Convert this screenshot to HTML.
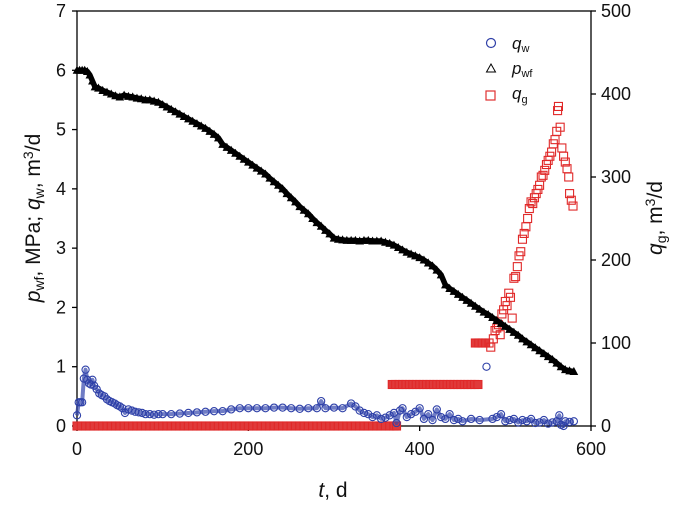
<!DOCTYPE html>
<html><head><meta charset="utf-8"><style>
body{margin:0;background:#fff}
svg text{font-family:"Liberation Sans",Arial,sans-serif;fill:#111}
</style></head><body>
<svg id="chart" width="685" height="507" viewBox="0 0 685 507" xmlns="http://www.w3.org/2000/svg">
<g id="axes"></g>
<g id="plot"></g>
<g id="legend">
  <circle cx="491" cy="43" r="4.5" fill="none" stroke="#3040a8" stroke-width="1.2"/>
  <text x="512" y="49" font-size="17"><tspan font-style="italic">q</tspan><tspan font-size="11" dy="3">w</tspan></text>
  <path d="M486.5,72 L491,64 L495.5,72 Z" fill="none" stroke="#000" stroke-width="1"/>
  <text x="512" y="74" font-size="17"><tspan font-style="italic">p</tspan><tspan font-size="11" dy="3">wf</tspan></text>
  <rect x="486" y="91" width="9" height="9" fill="none" stroke="#e03030" stroke-width="1.2"/>
  <text x="512" y="99" font-size="17"><tspan font-style="italic">q</tspan><tspan font-size="11" dy="4">g</tspan></text>
</g>
<text transform="translate(40,218) rotate(-90)" text-anchor="middle" font-size="21"><tspan font-style="italic">p</tspan><tspan font-size="14" dy="4">wf</tspan><tspan dy="-4">, MPa; </tspan><tspan font-style="italic">q</tspan><tspan font-size="14" dy="4">w</tspan><tspan dy="-4">, m</tspan><tspan font-size="14" dy="-7">3</tspan><tspan dy="7">/d</tspan></text>
<text transform="translate(662,218) rotate(-90)" text-anchor="middle" font-size="21"><tspan font-style="italic">q</tspan><tspan font-size="14" dy="4">g</tspan><tspan dy="-4">, m</tspan><tspan font-size="14" dy="-7">3</tspan><tspan dy="7">/d</tspan></text>
<text x="333" y="497" text-anchor="middle" font-size="21"><tspan font-style="italic">t</tspan>, d</text>
</svg>
<script>
const xTicks=[0,200,400,600];
const yLeftTicks=[0,1,2,3,4,5,6,7];
const yRightTicks=[0,100,200,300,400,500];
const pwfT=[0,3,6,9,12,15,18,21,25,30,35,40,45,50,55,60,65,70,75,80,85,90,95,100,105,110,115,120,125,130,135,140,145,150,155,160,165,170,175,180,185,190,195,200,205,210,215,220,225,230,235,240,245,250,255,260,265,270,275,280,285,290,295,300,305,310,315,320,325,330,335,340,345,350,355,360,365,370,375,380,385,390,395,400,405,410,415,420,425,430,435,440,445,450,455,460,465,470,475,480,485,490,495,500,505,510,515,520,525,530,535,540,545,550,555,560,565,570,575,580];
const pwfV=[6.0,6.0,6.0,6.0,5.98,5.92,5.82,5.72,5.7,5.66,5.63,5.6,5.57,5.55,5.58,5.56,5.55,5.53,5.52,5.5,5.5,5.48,5.46,5.42,5.38,5.34,5.3,5.26,5.22,5.18,5.14,5.1,5.06,5.02,4.97,4.92,4.86,4.75,4.7,4.65,4.6,4.55,4.5,4.45,4.4,4.35,4.3,4.25,4.18,4.12,4.06,4.0,3.92,3.85,3.78,3.7,3.64,3.58,3.5,3.43,3.37,3.3,3.24,3.17,3.15,3.14,3.13,3.13,3.13,3.12,3.13,3.13,3.12,3.12,3.12,3.1,3.08,3.05,3.01,2.97,2.93,2.9,2.87,2.84,2.8,2.75,2.7,2.63,2.55,2.38,2.32,2.27,2.22,2.17,2.12,2.07,2.02,1.97,1.92,1.88,1.83,1.78,1.73,1.68,1.63,1.58,1.53,1.47,1.42,1.37,1.32,1.27,1.22,1.17,1.12,1.06,1.0,0.95,0.93,0.92,0.92,0.9];
const qwT=[0,2,4,6,8,10,12,14,16,18,20,23,26,29,32,35,38,41,44,47,50,53,56,60,64,68,72,76,80,85,90,95,100,110,120,130,140,150,160,170,180,190,200,210,220,230,240,250,260,270,280,285,290,300,310,320,325,330,335,340,345,350,355,360,365,370,373,377,380,385,390,395,400,405,410,415,420,425,430,435,440,445,450,460,470,478,485,490,495,500,505,510,515,520,525,530,535,540,545,550,555,560,563,565,568,570,575,580];
const qwV=[0.18,0.4,0.4,0.4,0.8,0.95,0.78,0.72,0.7,0.78,0.68,0.62,0.55,0.52,0.5,0.45,0.42,0.4,0.38,0.35,0.33,0.3,0.22,0.28,0.26,0.24,0.23,0.22,0.2,0.2,0.19,0.2,0.2,0.2,0.21,0.22,0.23,0.24,0.25,0.25,0.28,0.3,0.3,0.3,0.3,0.31,0.31,0.3,0.29,0.3,0.3,0.42,0.3,0.31,0.3,0.38,0.33,0.26,0.22,0.2,0.15,0.18,0.12,0.14,0.18,0.22,0.05,0.26,0.3,0.15,0.2,0.24,0.3,0.12,0.2,0.1,0.28,0.15,0.12,0.2,0.1,0.12,0.08,0.12,0.1,1.0,0.12,0.15,0.2,0.08,0.1,0.12,0.06,0.1,0.08,0.12,0.05,0.06,0.1,0.04,0.06,0.08,0.18,0.02,0.0,0.08,0.07,0.08];
const qgT=[0,5,10,15,20,25,30,35,40,45,50,55,60,65,70,75,80,85,90,95,100,105,110,115,120,125,130,135,140,145,150,155,160,165,170,175,180,185,190,195,200,205,210,215,220,225,230,235,240,245,250,255,260,265,270,275,280,285,290,295,300,305,310,315,320,325,330,335,340,345,350,355,360,365,370,373,
 368,372,376,380,384,388,392,396,400,404,408,412,416,420,424,428,432,436,440,444,448,452,456,460,464,468,
 465,469,473,477,481,483,486,488,490,492,494,496,498,500,502,504,506,508,510,512,514,516,518,520,522,524,526,528,530,532,534,536,538,540,542,544,546,548,550,552,554,556,558,560,561,562,564,566,568,570,572,574,575,577,579];
const qgV=[0,0,0,0,0,0,0,0,0,0,0,0,0,0,0,0,0,0,0,0,0,0,0,0,0,0,0,0,0,0,0,0,0,0,0,0,0,0,0,0,0,0,0,0,0,0,0,0,0,0,0,0,0,0,0,0,0,0,0,0,0,0,0,0,0,0,0,0,0,0,0,0,0,0,0,0,
 50,50,50,50,50,50,50,50,50,50,50,50,50,50,50,50,50,50,50,50,50,50,50,50,50,50,
 100,100,100,100,100,95,105,115,118,122,110,135,140,150,145,160,155,130,178,180,192,205,210,225,232,240,250,262,270,268,275,280,285,290,300,302,308,315,320,325,330,340,345,355,380,385,360,335,325,318,310,300,280,272,265];

const X0=77,X1=591,Y0=426,Y1=11;
const sx=t=>X0+(t-0)/(600-0)*(X1-X0);
const syL=v=>Y0-(v/7)*(Y0-Y1);
const syR=v=>Y0-(v/500)*(Y0-Y1);
const NS='http://www.w3.org/2000/svg';
const axes=document.getElementById('axes'),plot=document.getElementById('plot');
function mk(tag,attrs,parent){const e=document.createElementNS(NS,tag);for(const k in attrs)e.setAttribute(k,attrs[k]);parent.appendChild(e);return e;}

let frame=mk('rect',{x:X0,y:Y1,width:X1-X0,height:Y0-Y1,fill:'none',stroke:'#000','stroke-width':1.3},axes);


xTicks.forEach(t=>{
  const l=mk('line',{x1:sx(t),x2:sx(t),y1:Y0,y2:Y0+5,stroke:'#000','stroke-width':1.3},axes);
  
  
  const tx=mk('text',{x:sx(t),y:Y0+29,'text-anchor':'middle','font-size':18},axes);tx.textContent=t;
  
  
});
yLeftTicks.forEach(v=>{
  const l=mk('line',{x1:X0-5,x2:X0,y1:syL(v),y2:syL(v),stroke:'#000','stroke-width':1.3},axes);
  
  
  const tx=mk('text',{x:X0-11,y:syL(v)+6,'text-anchor':'end','font-size':18},axes);tx.textContent=v;
  
  
});
yRightTicks.forEach(v=>{
  const l=mk('line',{x1:X1,x2:X1+5,y1:syR(v),y2:syR(v),stroke:'#000','stroke-width':1.3},axes);
  
  
  const tx=mk('text',{x:X1+10,y:syR(v)+6,'text-anchor':'start','font-size':18},axes);tx.textContent=v;
  
  
});

// qg squares
qgT.forEach((t,i)=>{
  const low=qgV[i]<=100&&t<480;
  const r=mk('rect',{x:sx(t)-4,y:syR(qgV[i])-4,width:8,height:8,fill:low?'#e03a3a':'none',stroke:'#e02828','stroke-width':1.1},plot);
  
  
});
// pwf thick line + triangles
const pl=mk('polyline',{points:pwfT.map((t,i)=>sx(t)+','+syL(pwfV[i])).join(' '),fill:'none',stroke:'#000','stroke-width':5.5,'stroke-linejoin':'round'},plot);


pwfT.forEach((t,i)=>{
  const x=sx(t),y=syL(pwfV[i]);
  const p=mk('path',{d:`M${x-3.5},${y+3} L${x},${y-3.5} L${x+3.5},${y+3} Z`,fill:'#000',stroke:'#000','stroke-width':1},plot);
  
  
});
// qw dense band (skipping isolated outliers)
const bandPts=qwT.map((t,i)=>[t,qwV[i]]).filter(d=>!(d[0]>100&&d[1]>0.8));
const qb=mk('polyline',{points:bandPts.map(d=>sx(d[0])+','+syL(d[1])).join(' '),fill:'none',stroke:'#3346ad','stroke-width':4,'stroke-linejoin':'round',opacity:0.7},plot);


qwT.forEach((t,i)=>{
  const c=mk('circle',{cx:sx(t),cy:syL(qwV[i]),r:3.6,fill:'none',stroke:'#2e40a8','stroke-width':1.1},plot);
  
  
});
</script>
</body></html>
